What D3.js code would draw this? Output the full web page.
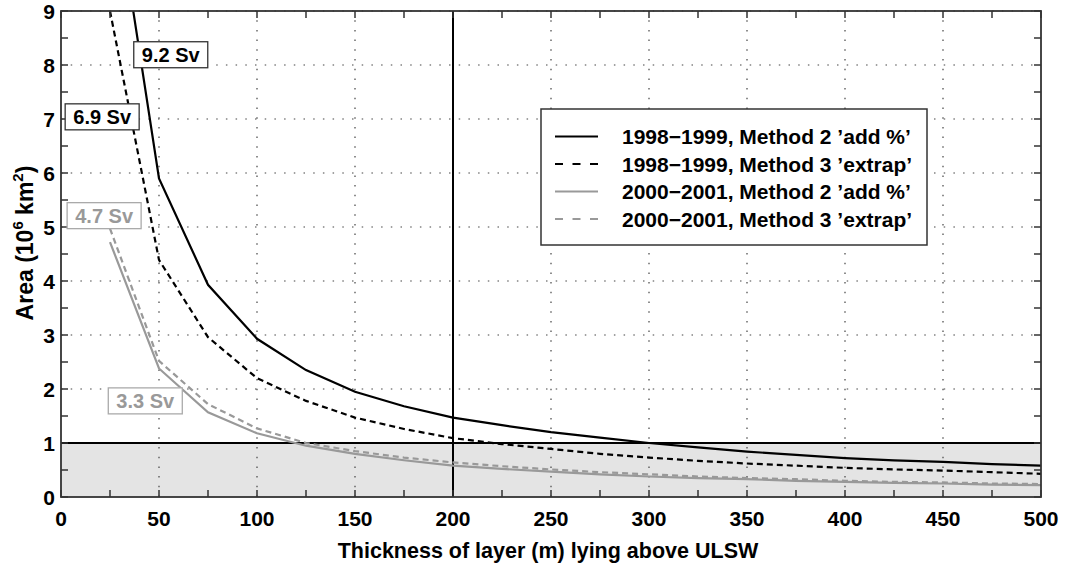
<!DOCTYPE html>
<html>
<head>
<meta charset="utf-8">
<script src="https://cdn.jsdelivr.net/npm/d3@7"></script>
<style>
  body { margin: 0; background: #fff; }
  svg { display: block; font-family: "Liberation Sans", Arial, sans-serif; font-weight: bold; }
</style>
</head>
<body>
<svg id="chart" width="1070" height="566"></svg>
<script>
// Layer thickness (m)
const thickness = [25, 50, 75, 100, 125, 150, 175, 200, 225, 250, 275, 300, 325, 350, 375, 400, 425, 450, 475, 500];

// Area (10^6 km^2) for each series
const m2_9899 = [11.8, 5.9, 3.93, 2.93, 2.35, 1.95, 1.68, 1.47, 1.33, 1.2, 1.1, 1.0, 0.92, 0.84, 0.78, 0.72, 0.68, 0.65, 0.61, 0.58];
const m3_9899 = [9.0, 4.39, 2.96, 2.2, 1.78, 1.47, 1.26, 1.09, 0.98, 0.89, 0.8, 0.73, 0.67, 0.62, 0.58, 0.54, 0.51, 0.49, 0.46, 0.43];
const m2_0001 = [4.72, 2.38, 1.57, 1.18, 0.95, 0.8, 0.68, 0.58, 0.52, 0.47, 0.42, 0.38, 0.35, 0.33, 0.3, 0.28, 0.26, 0.25, 0.23, 0.22];
const m3_0001 = [4.97, 2.52, 1.72, 1.27, 1.0, 0.85, 0.73, 0.64, 0.57, 0.51, 0.46, 0.42, 0.38, 0.35, 0.33, 0.3, 0.28, 0.27, 0.25, 0.24];

const seriesNames = [
    "1998\u22121999, Method 2 \u2019add %\u2019",
    "1998\u22121999, Method 3 \u2019extrap\u2019",
    "2000\u22122001, Method 2 \u2019add %\u2019",
    "2000\u22122001, Method 3 \u2019extrap\u2019"
];

// transport labels: [text, x, y, colour]
const labels = [
    ["9.2 Sv", 56, 8.19, "#000"],
    ["6.9 Sv", 21, 7.04, "#000"],
    ["4.7 Sv", 22, 5.21, "#999"],
    ["3.3 Sv", 43, 1.78, "#999"]
];

const xTicks = d3.range(0, 501, 50);
const yTicks = d3.range(0, 10, 1);

const svg = d3.select("#chart");
const margin = { top: 11, right: 29, bottom: 69, left: 61 };
const width = +svg.attr("width") - margin.left - margin.right;
const height = +svg.attr("height") - margin.top - margin.bottom;

const x = d3.scaleLinear().domain([0, 500]).range([0, width]);
const y = d3.scaleLinear().domain([0, 9]).range([height, 0]);

const g = svg.append("g").attr("transform", `translate(${margin.left},${margin.top})`);

svg.append("defs").append("clipPath").attr("id", "clip")
    .append("rect").attr("width", width).attr("height", height);

// shaded area below 1
g.append("rect")
    .attr("x", 0).attr("y", y(1))
    .attr("width", width).attr("height", y(0) - y(1))
    .attr("fill", "#e4e4e4");

// dotted grid
g.append("g").selectAll("line")
    .data(xTicks.slice(1, -1))
    .join("line")
    .attr("x1", d => x(d)).attr("x2", d => x(d))
    .attr("y1", height).attr("y2", 0)
    .attr("stroke", "#444").attr("stroke-width", 1.2)
    .attr("stroke-dasharray", "1.5,8.2");

g.append("g").selectAll("line")
    .data(yTicks.slice(1))
    .join("line")
    .attr("x1", 0).attr("x2", width)
    .attr("y1", d => y(d)).attr("y2", d => y(d))
    .attr("stroke", "#444").attr("stroke-width", 1.2)
    .attr("stroke-dasharray", "1.5,8.2");

// reference lines
g.append("line")
    .attr("x1", 0).attr("x2", width)
    .attr("y1", y(1)).attr("y2", y(1))
    .attr("stroke", "#000").attr("stroke-width", 2);

g.append("line")
    .attr("x1", x(200)).attr("x2", x(200))
    .attr("y1", 0).attr("y2", height)
    .attr("stroke", "#000").attr("stroke-width", 2);

const styles = [
    { values: m2_9899, color: "#000", dash: null },
    { values: m3_9899, color: "#000", dash: "6,4" },
    { values: m2_0001, color: "#999", dash: null },
    { values: m3_0001, color: "#999", dash: "6,4" }
];

const line = d3.line()
    .x((d, i) => x(thickness[i]))
    .y(d => y(d));

g.append("g").attr("clip-path", "url(#clip)")
    .selectAll("path")
    .data(styles.slice().reverse())
    .join("path")
    .attr("d", d => line(d.values))
    .attr("fill", "none")
    .attr("stroke", d => d.color)
    .attr("stroke-width", 2.2)
    .attr("stroke-dasharray", d => d.dash);

// axes frame and ticks (inside, all four sides)
const xMinor = d3.range(0, 501, 25);
const yMinor = d3.range(0, 9.01, 0.5);
const tickLen = 7;
const ticks = g.append("g").attr("stroke", "#333").attr("stroke-width", 1.5);
xMinor.forEach(v => {
    ticks.append("line").attr("x1", x(v)).attr("x2", x(v)).attr("y1", height).attr("y2", height - tickLen);
    ticks.append("line").attr("x1", x(v)).attr("x2", x(v)).attr("y1", 0).attr("y2", tickLen);
});
yMinor.forEach(v => {
    ticks.append("line").attr("x1", 0).attr("x2", tickLen).attr("y1", y(v)).attr("y2", y(v));
    ticks.append("line").attr("x1", width).attr("x2", width - tickLen).attr("y1", y(v)).attr("y2", y(v));
});

g.append("rect")
    .attr("width", width).attr("height", height)
    .attr("fill", "none").attr("stroke", "#333").attr("stroke-width", 1.8);

// tick labels
g.append("g").selectAll("text")
    .data(xTicks)
    .join("text")
    .attr("x", d => x(d))
    .attr("y", height + 29)
    .attr("text-anchor", "middle")
    .attr("font-size", 21)
    .text(d => d);

g.append("g").selectAll("text")
    .data(yTicks)
    .join("text")
    .attr("x", -6)
    .attr("y", d => y(d) + 8)
    .attr("text-anchor", "end")
    .attr("font-size", 21)
    .text(d => d);

// axis titles
svg.append("text")
    .attr("x", 548)
    .attr("y", 558)
    .attr("text-anchor", "middle")
    .attr("font-size", 21.5)
    .text("Thickness of layer (m) lying above ULSW");

const yt = svg.append("text")
    .attr("transform", "translate(33,243) rotate(-90)")
    .attr("text-anchor", "middle")
    .attr("font-size", 23);
yt.append("tspan").text("Area (10");
yt.append("tspan").attr("font-size", 15).attr("dy", -10).text("6");
yt.append("tspan").attr("dy", 10).text(" km");
yt.append("tspan").attr("font-size", 15).attr("dy", -10).text("2");
yt.append("tspan").attr("dy", 10).text(")");

// transport labels
labels.forEach(([txt, lx, ly, col]) => {
    const lg = g.append("g").attr("transform", `translate(${x(lx)},${y(ly)})`);
    lg.append("rect")
        .attr("x", -37).attr("y", -13)
        .attr("width", 74).attr("height", 26)
        .attr("fill", "#fff")
        .attr("stroke", col === "#000" ? "#333" : "#aaa")
        .attr("stroke-width", 1.3);
    lg.append("text")
        .attr("text-anchor", "middle")
        .attr("y", 7)
        .attr("font-size", 20)
        .attr("fill", col)
        .text(txt);
});

// legend
const legend = svg.append("g").attr("transform", "translate(541,109)");
legend.append("rect")
    .attr("width", 386).attr("height", 136)
    .attr("fill", "#fff").attr("stroke", "#333").attr("stroke-width", 1.5);

const items = legend.selectAll("g.item")
    .data(styles)
    .join("g")
    .attr("class", "item")
    .attr("transform", (d, i) => `translate(0,${27.5 + i * 27.5})`);

items.append("line")
    .attr("x1", 14).attr("x2", 57)
    .attr("stroke", d => d.color)
    .attr("stroke-width", 2.2)
    .attr("stroke-dasharray", d => d.dash ? "8,9.5" : null);

items.append("text")
    .attr("x", 81).attr("y", 7.5)
    .attr("font-size", 21)
    .text((d, i) => seriesNames[i]);
</script>
</body>
</html>
